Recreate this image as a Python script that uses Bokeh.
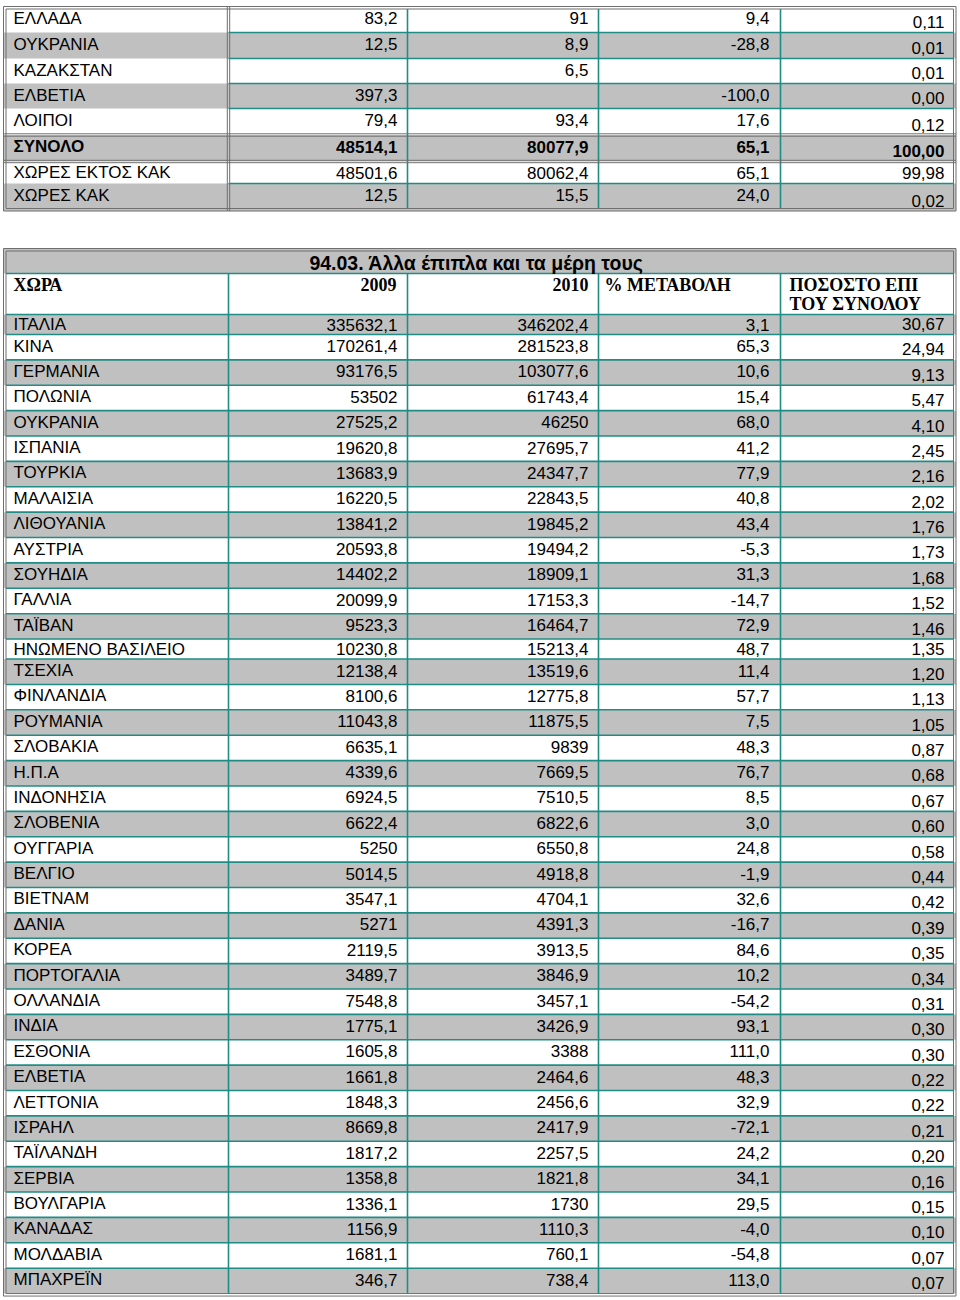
from bokeh.plotting import figure
from bokeh.models import Range1d
from bokeh.embed import file_html
from bokeh.resources import INLINE
from bokeh.core.properties import value

# ---------------- DATA ----------------
# upper (continued) table
top_names = ["ΕΛΛΑΔΑ", "ΟΥΚΡΑΝΙΑ", "ΚΑΖΑΚΣΤΑΝ", "ΕΛΒΕΤΙΑ", "ΛΟΙΠΟΙ",
             "ΣΥΝΟΛΟ", "ΧΩΡΕΣ ΕΚΤΟΣ ΚΑΚ", "ΧΩΡΕΣ ΚΑΚ"]
top_2009 = [83.2, 12.5, None, 397.3, 79.4, 48514.1, 48501.6, 12.5]
top_2010 = [91, 8.9, 6.5, None, 93.4, 80077.9, 80062.4, 15.5]
top_change = [9.4, -28.8, None, -100.0, 17.6, 65.1, 65.1, 24.0]
top_share = [0.11, 0.01, 0.01, 0.00, 0.12, 100.00, 99.98, 0.02]

# main table 94.03
title = "94.03. Άλλα έπιπλα και τα μέρη τους"
headers = ["ΧΩΡΑ", "2009", "2010", "% ΜΕΤΑΒΟΛΗ", "ΠΟΣΟΣΤΟ ΕΠΙ", "ΤΟΥ ΣΥΝΟΛΟΥ"]
countries = ["ΙΤΑΛΙΑ", "ΚΙΝΑ", "ΓΕΡΜΑΝΙΑ", "ΠΟΛΩΝΙΑ", "ΟΥΚΡΑΝΙΑ", "ΙΣΠΑΝΙΑ",
             "ΤΟΥΡΚΙΑ", "ΜΑΛΑΙΣΙΑ", "ΛΙΘΟΥΑΝΙΑ", "ΑΥΣΤΡΙΑ", "ΣΟΥΗΔΙΑ", "ΓΑΛΛΙΑ",
             "ΤΑΪΒΑΝ", "ΗΝΩΜΕΝΟ ΒΑΣΙΛΕΙΟ", "ΤΣΕΧΙΑ", "ΦΙΝΛΑΝΔΙΑ", "ΡΟΥΜΑΝΙΑ",
             "ΣΛΟΒΑΚΙΑ", "Η.Π.Α", "ΙΝΔΟΝΗΣΙΑ", "ΣΛΟΒΕΝΙΑ", "ΟΥΓΓΑΡΙΑ", "ΒΕΛΓΙΟ",
             "ΒΙΕΤΝΑΜ", "ΔΑΝΙΑ", "ΚΟΡΕΑ", "ΠΟΡΤΟΓΑΛΙΑ", "ΟΛΛΑΝΔΙΑ", "ΙΝΔΙΑ",
             "ΕΣΘΟΝΙΑ", "ΕΛΒΕΤΙΑ", "ΛΕΤΤΟΝΙΑ", "ΙΣΡΑΗΛ", "ΤΑΪΛΑΝΔΗ", "ΣΕΡΒΙΑ",
             "ΒΟΥΛΓΑΡΙΑ", "ΚΑΝΑΔΑΣ", "ΜΟΛΔΑΒΙΑ", "ΜΠΑΧΡΕΪΝ"]
v2009 = [335632.1, 170261.4, 93176.5, 53502, 27525.2, 19620.8, 13683.9, 16220.5,
         13841.2, 20593.8, 14402.2, 20099.9, 9523.3, 10230.8, 12138.4, 8100.6,
         11043.8, 6635.1, 4339.6, 6924.5, 6622.4, 5250, 5014.5, 3547.1, 5271,
         2119.5, 3489.7, 7548.8, 1775.1, 1605.8, 1661.8, 1848.3, 8669.8, 1817.2,
         1358.8, 1336.1, 1156.9, 1681.1, 346.7]
v2010 = [346202.4, 281523.8, 103077.6, 61743.4, 46250, 27695.7, 24347.7, 22843.5,
         19845.2, 19494.2, 18909.1, 17153.3, 16464.7, 15213.4, 13519.6, 12775.8,
         11875.5, 9839, 7669.5, 7510.5, 6822.6, 6550.8, 4918.8, 4704.1, 4391.3,
         3913.5, 3846.9, 3457.1, 3426.9, 3388, 2464.6, 2456.6, 2417.9, 2257.5,
         1821.8, 1730, 1110.3, 760.1, 738.4]
change = [3.1, 65.3, 10.6, 15.4, 68.0, 41.2, 77.9, 40.8, 43.4, -5.3, 31.3, -14.7,
          72.9, 48.7, 11.4, 57.7, 7.5, 48.3, 76.7, 8.5, 3.0, 24.8, -1.9, 32.6,
          -16.7, 84.6, 10.2, -54.2, 93.1, 111.0, 48.3, 32.9, -72.1, 24.2, 34.1,
          29.5, -4.0, -54.8, 113.0]
share = [30.67, 24.94, 9.13, 5.47, 4.10, 2.45, 2.16, 2.02, 1.76, 1.73, 1.68, 1.52,
         1.46, 1.35, 1.20, 1.13, 1.05, 0.87, 0.68, 0.67, 0.60, 0.58, 0.44, 0.42,
         0.39, 0.35, 0.34, 0.31, 0.30, 0.30, 0.22, 0.22, 0.21, 0.20, 0.16, 0.15,
         0.10, 0.07, 0.07]


# ---------------- formatting ----------------
def fmt_gen(v):
    if v is None:
        return ""
    s = f"{v:.1f}"
    if s.endswith(".0"):
        s = s[:-2]
    return s.replace(".", ",")


def fmt_n(v, n):
    if v is None:
        return ""
    return f"{v:.{n}f}".replace(".", ",")


# ---------------- layout ----------------
GRAY = "#c0c0c0"
TEAL = "#1f8c86"
BORD = "#6f6f6f"
SANS = value("Liberation Sans")
SERIF = value("Liberation Serif")
FS = "17px"
HFS = "18px"

COLS = [3, 228, 407, 598, 780, 955.5]
LEFT_X = 13
RIGHT_X = [397, 588, 769, 944]

p = figure(width=960, height=1300, x_range=Range1d(0, 960), y_range=Range1d(1300, 0),
           output_backend="svg", toolbar_location=None, min_border=0,
           x_axis_location=None, y_axis_location=None)
p.grid.visible = False
p.outline_line_color = None
p.background_fill_color = "white"
p.border_fill_color = "white"


def txt(xs, ys, texts, align, bold=False, font=SANS, size=FS):
    p.text(x=xs, y=ys, text=texts, text_align=align, text_baseline="middle",
           text_font=font, text_font_size=size, text_color="black",
           text_font_style="bold" if bold else "normal")


def dbl_rect(x0, y0, x1, y1):
    for d in (0, 2.5):
        p.segment(x0=[x0 + d, x1 - d, x0 + d, x0 + d], y0=[y0 + d, y0 + d, y0 + d, y1 - d],
                  x1=[x0 + d, x1 - d, x1 - d, x1 - d], y1=[y1 - d, y1 - d, y0 + d, y1 - d],
                  line_color=BORD, line_width=1)


def dbl_h(x0, x1, y):
    p.segment(x0=[x0, x0], x1=[x1, x1], y0=[y - 1.2, y + 1.2], y1=[y - 1.2, y + 1.2],
              line_color=BORD, line_width=1)


# ===== upper table =====
top_bounds = [6, 32, 58, 83, 108, 134.5, 161, 183, 210.5]
n_top = len(top_names)
tops = top_bounds[:-1]
bots = top_bounds[1:]
gray_idx = [i for i in range(n_top) if i % 2 == 1]
p.quad(left=[COLS[0]] * len(gray_idx), right=[COLS[-1]] * len(gray_idx),
       top=[tops[i] for i in gray_idx], bottom=[bots[i] for i in gray_idx],
       fill_color=GRAY, line_color=None)

# teal horizontal lines (columns 2..5)
hl = [b for k, b in enumerate(top_bounds[1:-1]) if k not in (4, 5)]
p.segment(x0=[COLS[1]] * len(hl), x1=[COLS[-1] - 2.5] * len(hl), y0=hl, y1=hl,
          line_color=TEAL, line_width=1.6)
# teal verticals
for cx in COLS[2:5]:
    p.segment(x0=[cx], x1=[cx], y0=[top_bounds[0] + 2.5], y1=[top_bounds[-1] - 2.5],
              line_color=TEAL, line_width=1.6)
# double vertical after first column
p.segment(x0=[COLS[1] - 1.2, COLS[1] + 1.2], x1=[COLS[1] - 1.2, COLS[1] + 1.2],
          y0=[top_bounds[0]] * 2, y1=[top_bounds[-1]] * 2, line_color=BORD, line_width=1)
# double lines around the total row
dbl_h(COLS[0], COLS[-1], top_bounds[5])
dbl_h(COLS[0], COLS[-1], top_bounds[6])
dbl_rect(COLS[0], top_bounds[0], COLS[-1], top_bounds[-1])

for i in range(n_top):
    h = bots[i] - tops[i]
    ym = tops[i] + min(11.5, h / 2)
    yl = bots[i] - 10.5
    b = top_names[i] == "ΣΥΝΟΛΟ"
    txt([LEFT_X], [ym], [top_names[i]], "left", bold=b)
    txt([RIGHT_X[0], RIGHT_X[1], RIGHT_X[2]], [ym] * 3,
        [fmt_gen(top_2009[i]), fmt_gen(top_2010[i]), fmt_n(top_change[i], 1)], "right", bold=b)
    txt([RIGHT_X[3]], [yl], [fmt_n(top_share[i], 2)], "right", bold=b)

# ===== main table =====
T0 = 248
TITLE_B = 273
HEAD_B = 314
ROW_H = 25.38
short_rows = {0, 13}
bounds = [HEAD_B]
for i in range(len(countries)):
    bounds.append(bounds[-1] + (20 if i in short_rows else ROW_H))
T1 = bounds[-1] + 2.5

# title band
p.quad(left=[COLS[0]], right=[COLS[-1]], top=[T0], bottom=[TITLE_B], fill_color=GRAY, line_color=None)
rt = bounds[:-1]
rb = bounds[1:]
g2 = [i for i in range(len(countries)) if i % 2 == 0]
p.quad(left=[COLS[0]] * len(g2), right=[COLS[-1]] * len(g2),
       top=[rt[i] for i in g2], bottom=[rb[i] for i in g2], fill_color=GRAY, line_color=None)

hl2 = [TITLE_B] + bounds[:-1]
p.segment(x0=[COLS[0] + 2.5] * len(hl2), x1=[COLS[-1] - 2.5] * len(hl2), y0=hl2, y1=hl2,
          line_color=TEAL, line_width=1.6)
for cx in COLS[1:5]:
    p.segment(x0=[cx], x1=[cx], y0=[TITLE_B], y1=[bounds[-1]], line_color=TEAL, line_width=1.6)
dbl_rect(COLS[0], T0, COLS[-1], T1)

# title + headers
txt([476], [262], [title], "center", bold=True, size="19.5px")
txt([LEFT_X], [284], [headers[0]], "left", bold=True, font=SERIF, size=HFS)
txt([RIGHT_X[0] - 1, RIGHT_X[1]], [284, 284], [headers[1], headers[2]], "right", bold=True,
    font=SERIF, size=HFS)
txt([604], [284], [headers[3]], "left", bold=True, font=SERIF, size=HFS)
txt([789, 789], [284, 303], [headers[4], headers[5]], "left", bold=True, font=SERIF, size=HFS)

for i in range(len(countries)):
    h = rb[i] - rt[i]
    ym = rt[i] + min(11.5, h / 2)
    yl = rb[i] - 10.5
    txt([LEFT_X], [ym], [countries[i]], "left")
    txt([RIGHT_X[0], RIGHT_X[1], RIGHT_X[2]], [ym] * 3,
        [fmt_gen(v2009[i]), fmt_gen(v2010[i]), fmt_n(change[i], 1)], "right")
    txt([RIGHT_X[3]], [yl], [fmt_n(share[i], 2)], "right")

open("out.html", "w").write(file_html(p, INLINE))
